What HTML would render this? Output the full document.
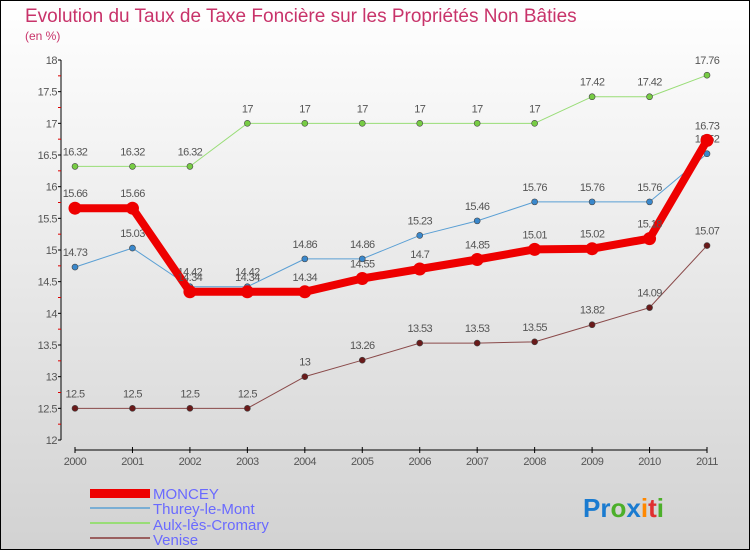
<!DOCTYPE html>
<html><head><meta charset="utf-8"><style>
body{margin:0;width:750px;height:550px;overflow:hidden;font-family:"Liberation Sans",sans-serif}
svg{display:block}
</style></head><body>
<svg id="chart" width="750" height="550" xmlns="http://www.w3.org/2000/svg">
<defs><linearGradient id="bg" x1="0" y1="0" x2="0" y2="1"><stop offset="0" stop-color="#ffffff"/><stop offset="1" stop-color="#d2d2d2"/></linearGradient></defs>
<rect x="0.5" y="0.5" width="749" height="549" fill="url(#bg)" stroke="#000"/>
<text x="25" y="22" font-size="19" fill="#c8336a">Evolution du Taux de Taxe Foncière sur les Propriétés Non Bâties</text>
<text x="25" y="40" font-size="12" fill="#c8336a">(en %)</text>
<g id="axes"></g><g id="series"></g>
<g font-size="15" fill="#6a6aff">
<rect x="90" y="489" width="60" height="9" fill="#e00"/>
<text x="153" y="499">MONCEY</text>
<line x1="90" y1="508" x2="150" y2="508" stroke="#7aaed4" stroke-width="2"/>
<text x="153" y="514">Thurey-le-Mont</text>
<line x1="90" y1="523" x2="150" y2="523" stroke="#99dd77" stroke-width="2"/>
<text x="153" y="530">Aulx-lès-Cromary</text>
<line x1="90" y1="538" x2="150" y2="538" stroke="#9a6060" stroke-width="2"/>
<text x="153" y="545">Venise</text>
</g>
<text x="583" y="517" font-size="26" font-weight="bold"><tspan fill="#1a7bd0">Pr</tspan><tspan fill="#4caf2a">o</tspan><tspan fill="#1a7bd0">x</tspan><tspan fill="#ff8800">i</tspan><tspan fill="#e03030">t</tspan><tspan fill="#4caf2a">i</tspan></text>
</svg>
<script>
const years=["2000","2001","2002","2003","2004","2005","2006","2007","2008","2009","2010","2011"];
const yTicks=[12,12.5,13,13.5,14,14.5,15,15.5,16,16.5,17,17.5,18];
const moncey=[15.66,15.66,14.34,14.34,14.34,14.55,14.7,14.85,15.01,15.02,15.18,16.73];
const thurey=[14.73,15.03,14.42,14.42,14.86,14.86,15.23,15.46,15.76,15.76,15.76,16.52];
const aulx=[16.32,16.32,16.32,17,17,17,17,17,17,17.42,17.42,17.76];
const venise=[12.5,12.5,12.5,12.5,13,13.26,13.53,13.53,13.55,13.82,14.09,15.07];
const NS="http://www.w3.org/2000/svg";
const x0=75,x1=707,yTop=60,yBot=440,vMin=12,vMax=18;
function xs(i){return x0+i*(x1-x0)/(years.length-1);}
function ys(v){return yBot-(v-vMin)/(vMax-vMin)*(yBot-yTop);}
function mk(tag,attrs,parent){const e=document.createElementNS(NS,tag);for(const k in attrs)e.setAttribute(k,attrs[k]);parent.appendChild(e);return e;}
const axes=document.getElementById('axes'),ser=document.getElementById('series');
let a=mk('line',{x1:61,y1:yTop,x2:61,y2:yBot,stroke:'#000'},axes);


a=mk('line',{x1:x0,y1:450,x2:x1,y2:450,stroke:'#000'},axes);


yTicks.forEach(v=>{const y=ys(v);
mk('line',{x1:58,y1:y,x2:61,y2:y,stroke:'#000'},axes);
const t=mk('text',{x:57,y:y+4,'text-anchor':'end','font-size':11,fill:'#555','letter-spacing':'-0.5'},axes);t.textContent=String(v);


if(v<vMax){const ym=ys(v+0.25);mk('line',{x1:58,y1:ym,x2:61,y2:ym,stroke:'#d00'},axes);}
});
years.forEach((yr,i)=>{const x=xs(i);
mk('line',{x1:x,y1:447,x2:x,y2:453,stroke:'#000'},axes);
const t=mk('text',{x:x,y:465,'text-anchor':'middle','font-size':11,fill:'#555','letter-spacing':'-0.5'},axes);t.textContent=yr;


});
function draw(vals,name,color,dot,w,r){
const g=mk('g',{},ser);


const pl=mk('polyline',{points:vals.map((v,i)=>xs(i)+','+ys(v)).join(' '),fill:'none',stroke:color,'stroke-width':w,'stroke-linejoin':'round'},g);


vals.forEach((v,i)=>{
const c=mk('circle',{cx:xs(i),cy:ys(v),r:r,fill:dot,stroke:'#444','stroke-width':r>4?0:0.6},g);


const t=mk('text',{x:xs(i),y:ys(v)-11,'text-anchor':'middle','font-size':11,fill:'#555','letter-spacing':'-0.6'},g);t.textContent=String(v);


});}
draw(venise,'venise','#8a4a4a','#6a1a1a',1,3);
draw(aulx,'aulx','#99dd77','#77cc44',1,3);
draw(thurey,'thurey','#5a9fd4','#3a88cc',1,3);
draw(moncey,'moncey','#ee0000','#ee0000',8,6.5);
</script>
</body></html>
